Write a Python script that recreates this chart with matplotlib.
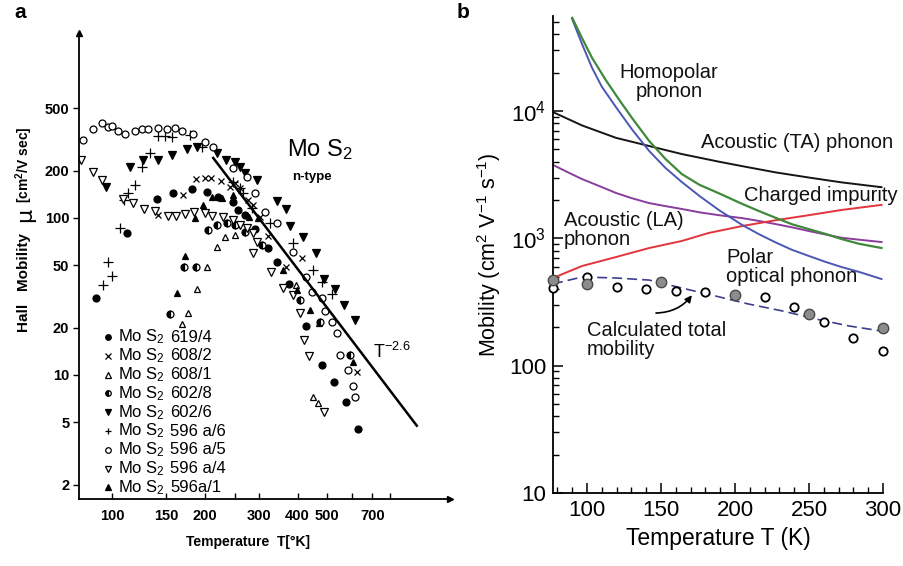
import matplotlib
matplotlib.use('Agg')
import matplotlib.pyplot as plt
from matplotlib.ticker import FixedLocator, NullLocator, FixedFormatter, LogLocator, NullFormatter, MultipleLocator

plt.rcParams['mathtext.default'] = 'regular'
ARIAL = ['Liberation Sans', 'DejaVu Sans']
MU_FONT = ['DejaVu Sans']

# ================= panel a data (Hall mobility of MoS2 samples) =================
T_619_4 = [88.7, 112, 140, 158, 182, 203, 221, 247, 256, 270, 291, 320, 343, 376, 427, 480, 527, 575, 627]
mu_619_4 = [30.9, 80.3, 132, 144, 153, 146, 136, 126, 112, 104, 85, 64.4, 52.5, 38.0, 20.5, 11.6, 9.0, 6.7, 4.5]

T_608_2 = [141, 170, 187, 200, 210, 226, 241, 251, 260, 276, 287, 303, 320, 368, 413, 625]
mu_608_2 = [104.5, 140, 177, 180, 180, 172, 158, 167, 155, 130, 121, 101, 76.8, 48.7, 55.6, 10.5]

T_608_1 = [169, 176, 189, 203, 219, 233, 251, 394, 470, 450, 467]
mu_608_1 = [21.2, 24.8, 35.3, 48.7, 65.4, 75.7, 77.9, 37.5, 21.4, 7.2, 6.6]

T_602_8 = [154, 171, 187, 205, 219, 236, 251, 270, 307, 407, 474, 594]
mu_602_8 = [24.5, 48.7, 48.7, 84, 90, 93, 90, 81, 67.3, 30, 21.8, 13.4]

T_602_6 = [95.6, 114, 126, 141, 157, 175, 189, 219, 234, 251, 260, 270, 296, 343, 367, 379, 416, 460, 486, 531, 564, 616]
mu_602_6 = [157, 211, 234, 234, 252, 275, 283, 259, 234, 227, 211, 194, 174, 128, 114, 89, 75.7, 59.9, 40.9, 35.4, 27.9, 22.4]

T_596a_6 = [93.5, 97, 100, 106, 109, 113, 119, 125, 133, 141, 149, 156, 179, 196, 247, 260, 266, 285, 326, 387, 450, 482, 518]
mu_596a_6 = [37.4, 52.5, 42.8, 86.4, 130, 144, 162, 211, 259, 333, 333, 328, 338, 283, 169, 155, 144, 116, 93, 69.3, 46.6, 39, 32.8]

T_596a_5 = [80.5, 86.8, 92.8, 97, 100, 104.6, 110, 119, 125, 131, 141, 151, 160, 169, 183, 200, 213, 247, 274, 291,
            314, 343, 387, 427, 446, 480, 492, 518, 537, 551, 583, 605, 616]
mu_596a_5 = [314, 369, 403, 380, 386, 358, 343, 358, 369, 369, 374, 369, 374, 358, 343, 305, 283, 208, 182, 144,
             109, 93, 60.7, 42, 33.8, 30.9, 25.6, 21.8, 18.5, 13.4, 10.8, 8.5, 7.2]

T_596a_4 = [79, 86.8, 92.8, 108.6, 117, 127, 138, 152, 161, 173, 185, 200, 211, 229, 247, 260, 274, 287, 296,
            287, 329, 360, 387, 407, 420, 437, 486]
mu_596a_4 = [234, 196, 175, 132, 125, 114, 111, 103, 103, 106, 109, 108, 103, 101, 97, 90, 86, 80, 70,
             59.9, 45.3, 35.9, 32.3, 24.8, 16.7, 13.2, 5.8]

T_596a_1 = [162, 173, 186, 197, 211, 228, 247, 279, 298, 360, 398, 440, 605]
mu_596a_1 = [33.3, 57.3, 100, 121, 136, 134, 140, 101, 100, 46.7, 34.8, 26.0, 12.1]

# T^-2.6 guide line end points
T_law = [213, 975]
mu_law = [241, 4.75]

sample_ids = ['619/4', '608/2', '608/1', '602/8', '602/6', '596 a/6', '596 a/5', '596 a/4', '596a/1']

a_xticks = [100, 150, 200, 300, 400, 500, 700]
a_xminor = [250, 600, 800]
a_yticks = [2, 5, 10, 20, 50, 100, 200, 500]

# ================= panel b data =================
T_TA = [77, 96.6, 119.6, 141.9, 164, 189, 204.7, 227.7, 250, 272, 299]
mu_TA = [9800, 7700, 6150, 5310, 4590, 4000, 3690, 3290, 3000, 2750, 2520]

T_LA = [77, 88, 96.6, 108, 119.6, 130, 142, 153, 164, 176, 189, 205, 216, 228, 238.5, 250, 261.5, 272, 284, 299]
mu_LA = [3770, 3260, 2920, 2580, 2270, 2070, 1890, 1790, 1700, 1600, 1520, 1440, 1370, 1290, 1220, 1140, 1070, 1010, 975, 935]

T_imp = [77, 96.6, 119.6, 142, 164, 182, 205, 228, 250, 272, 299]
mu_imp = [488, 606, 713, 839, 953, 1100, 1250, 1390, 1520, 1670, 1830]

T_pol = [89.9, 96.6, 103.4, 110, 119.6, 130.4, 142, 153, 164, 176, 189, 205, 216, 228, 238.5, 250, 261.5, 272, 284, 299]
mu_pol = [52900, 33600, 21800, 15500, 10700, 7160, 4850, 3570, 2770, 2150, 1670, 1270, 1080, 922, 812, 726, 651, 595, 544, 479]

T_hom = [90, 96.6, 103.4, 112.8, 121.6, 130.4, 142, 153, 164, 176, 189, 205, 216, 228, 238.5, 250, 261.5, 272, 284, 299]
mu_hom = [53800, 37400, 26100, 17400, 12300, 8810, 5810, 4200, 3200, 2630, 2260, 1860, 1640, 1440, 1290, 1180, 1080, 987, 905, 839]

T_tot = [77, 96.6, 119.6, 142, 164, 187, 209, 232, 255, 277, 299]
mu_tot = [438, 497, 488, 470, 407, 352, 305, 269, 232, 205, 187]

T_open = [77, 100, 120, 140, 160, 180, 220, 240, 260, 280, 300]
mu_open = [408, 497, 414, 400, 385, 379, 346, 289, 220, 165, 130]

T_gray = [77, 100, 150, 200, 250, 300]
mu_gray = [470, 438, 454, 359, 254, 197]

b_xticks = [100, 150, 200, 250, 300]
b_yticks = [10, 100, 1000, 10000]
b_ylabels = ['10', '100', '10$^3$', '10$^4$']

# ================= figure =================
W, H = 904, 566
fig = plt.figure(figsize=(W / 100, H / 100), dpi=100)

def frac_rect(l, t, r, b):
    return [l / W, 1 - b / H, (r - l) / W, (b - t) / H]

# ---------------- panel a ----------------
ax = fig.add_axes(frac_rect(79, 33, 450, 499))
ax.set_xscale('log')
ax.set_yscale('log')
ax.set_xlim(78.1, 1250)
ax.set_ylim(1.62, 1507)
for s in ['top', 'right']:
    ax.spines[s].set_visible(False)
for s in ['left', 'bottom']:
    ax.spines[s].set_linewidth(1.3)
ax.plot(0, 1, '^k', ms=5, transform=ax.transAxes, clip_on=False)
ax.plot(1, 0, '>k', ms=5, transform=ax.transAxes, clip_on=False)

ax.xaxis.set_major_locator(FixedLocator(a_xticks))
ax.xaxis.set_major_formatter(FixedFormatter([str(v) for v in a_xticks]))
ax.xaxis.set_minor_locator(FixedLocator(a_xminor))
ax.xaxis.set_minor_formatter(NullFormatter())
ax.yaxis.set_major_locator(FixedLocator(a_yticks))
ax.yaxis.set_major_formatter(FixedFormatter([str(v) for v in a_yticks]))
ax.yaxis.set_minor_locator(NullLocator())
ax.tick_params(axis='x', which='both', direction='in', length=4, width=1, pad=7)
ax.tick_params(axis='y', direction='out', length=4, width=1, pad=3)
for lab in ax.get_xticklabels() + ax.get_yticklabels():
    lab.set_fontfamily(ARIAL)
    lab.set_fontsize(10.5)
    lab.set_fontweight('bold')

mk = dict(color='k', linestyle='none', mew=0.9)
ax.plot(T_619_4, mu_619_4, marker='o', ms=5, **mk)
ax.plot(T_608_2, mu_608_2, marker='x', ms=5, **mk)
ax.plot(T_608_1, mu_608_1, marker='^', ms=5, mfc='white', **mk)
ax.plot(T_602_8, mu_602_8, marker='o', ms=5, fillstyle='left', mfc='k', mfcalt='white', **mk)
ax.plot(T_602_6, mu_602_6, marker='v', ms=5.5, **mk)
ax.plot(T_596a_6, mu_596a_6, marker='+', ms=7, **mk)
ax.plot(T_596a_5, mu_596a_5, marker='o', ms=5, mfc='white', **mk)
ax.plot(T_596a_4, mu_596a_4, marker='v', ms=5.5, mfc='white', **mk)
ax.plot(T_596a_1, mu_596a_1, marker='^', ms=5, **mk)
ax.plot(T_law, mu_law, color='k', lw=1.8)

ax.text(370, 271, 'Mo S$_2$', fontsize=17, family=ARIAL, ha='left', va='center')
ax.text(384, 182, 'n-type', fontsize=9.5, family=ARIAL, weight='bold', ha='left', va='center')
ax.text(703, 14, 'T$^{-2.6}$', fontsize=13, family=ARIAL, ha='left', va='center')

# legend rows
leg_styles = [
    dict(marker='o', ms=4, mfc='k'),
    dict(marker='x', ms=4, mfc='k'),
    dict(marker='^', ms=4, mfc='white'),
    dict(marker='o', ms=4, fillstyle='left', mfc='k', mfcalt='white'),
    dict(marker='v', ms=4.5, mfc='k'),
    dict(marker='+', ms=5, mfc='k'),
    dict(marker='o', ms=4, mfc='white'),
    dict(marker='v', ms=4.5, mfc='white'),
    dict(marker='^', ms=4, mfc='k'),
]
for i, (sid, st) in enumerate(zip(sample_ids, leg_styles)):
    py = 337 + i * 18.8
    yf = (499 - py) / 466
    ax.plot([(108 - 79) / 371], [yf], transform=ax.transAxes, color='k', linestyle='none', mew=0.9, clip_on=False, **st)
    ax.text((118 - 79) / 371, yf, 'Mo S$_2$', transform=ax.transAxes, fontsize=12, family=ARIAL, ha='left', va='center')
    ax.text((170 - 79) / 371, yf, sid, transform=ax.transAxes, fontsize=12, family=ARIAL, ha='left', va='center')

fig.text(248 / W, 1 - 542 / H, 'Temperature  T[°K]', fontsize=10, family=ARIAL, weight='bold', ha='center', va='center')
fig.text(24 / W, 1 - 282 / H, 'Hall   Mobility', fontsize=11, family=ARIAL, weight='bold', rotation=90, ha='center', va='center')
fig.text(25 / W, 1 - 215 / H, 'μ', fontsize=16, family=MU_FONT, rotation=90, ha='center', va='center')
fig.text(24 / W, 1 - 165 / H, '[cm$^2$/V sec]', fontsize=10, family=ARIAL, weight='bold', rotation=90, ha='center', va='center')

fig.text(14 / W, 1 - 12 / H, 'a', fontsize=15, family=ARIAL, weight='bold', ha='left', va='center')
fig.text(457 / W, 1 - 12 / H, 'b', fontsize=15, family=ARIAL, weight='bold', ha='left', va='center')

# ---------------- panel b ----------------
bx = fig.add_axes(frac_rect(553, 16, 883, 493))
bx.set_yscale('log')
bx.set_xlim(77, 300)
bx.set_ylim(10, 55700)
for s in ['top', 'right']:
    bx.spines[s].set_visible(False)
for s in ['left', 'bottom']:
    bx.spines[s].set_linewidth(1.3)
bx.xaxis.set_major_locator(FixedLocator(b_xticks))
bx.xaxis.set_minor_locator(MultipleLocator(10))
bx.yaxis.set_major_locator(FixedLocator(b_yticks))
bx.yaxis.set_major_formatter(FixedFormatter(b_ylabels))
bx.yaxis.set_minor_locator(LogLocator(base=10, subs=range(2, 10)))
bx.yaxis.set_minor_formatter(NullFormatter())
bx.tick_params(axis='both', which='major', direction='in', length=7, width=1.1, labelsize=16, pad=5)
bx.tick_params(axis='both', which='minor', direction='in', length=4, width=1.0)
for lab in bx.get_xticklabels() + bx.get_yticklabels():
    lab.set_fontfamily(ARIAL)

bx.plot(T_TA, mu_TA, color='#151515', lw=1.4)
bx.plot(T_LA, mu_LA, color='#8a3d9c', lw=1.4)
bx.plot(T_imp, mu_imp, color='#e3343c', lw=1.4)
bx.plot(T_pol, mu_pol, color='#4b57b3', lw=1.4)
bx.plot(T_hom, mu_hom, color='#3f8a3a', lw=1.6)
bx.plot(T_tot, mu_tot, color='#3d3f8e', lw=1.2, dashes=(6, 3))
bx.plot(T_open, mu_open, linestyle='none', marker='o', ms=6, mfc='white', mec='k', mew=1.3, zorder=5, clip_on=False)
bx.plot(T_gray, mu_gray, linestyle='none', marker='o', ms=7.5, mfc='#8c8c8c', mec='#4a4a4a', mew=1.0, zorder=6, clip_on=False)

tk = dict(fontsize=14.5, family=ARIAL, color='#111111')
bx.text(155.4, 16900, 'Homopolar\nphonon', ha='center', va='center', linespacing=1.0, **tk)
bx.text(177, 5700, 'Acoustic (TA) phonon', ha='left', va='center', **tk)
bx.text(206, 2150, 'Charged impurity', ha='left', va='center', **tk)
bx.text(84.5, 1160, 'Acoustic (LA)\nphonon', ha='left', va='center', linespacing=1.0, **tk)
bx.text(194, 596, 'Polar\noptical phonon', ha='left', va='center', linespacing=1.0, **tk)
bx.text(100, 159, 'Calculated total\nmobility', ha='left', va='center', linespacing=1.0, **tk)
bx.annotate('', xy=(172, 372), xytext=(146.6, 259),
            arrowprops=dict(arrowstyle='-|>', color='k', lw=1.2, mutation_scale=10,
                            connectionstyle='arc3,rad=0.25', shrinkA=0, shrinkB=2))

bx.set_xlabel('Temperature T (K)', fontsize=16.5, family=ARIAL, labelpad=4)
bx.set_ylabel('Mobility (cm$^2$ V$^{-1}$ s$^{-1}$)', fontsize=15.5, family=ARIAL, labelpad=4)

fig.savefig('out.png', dpi=100)
